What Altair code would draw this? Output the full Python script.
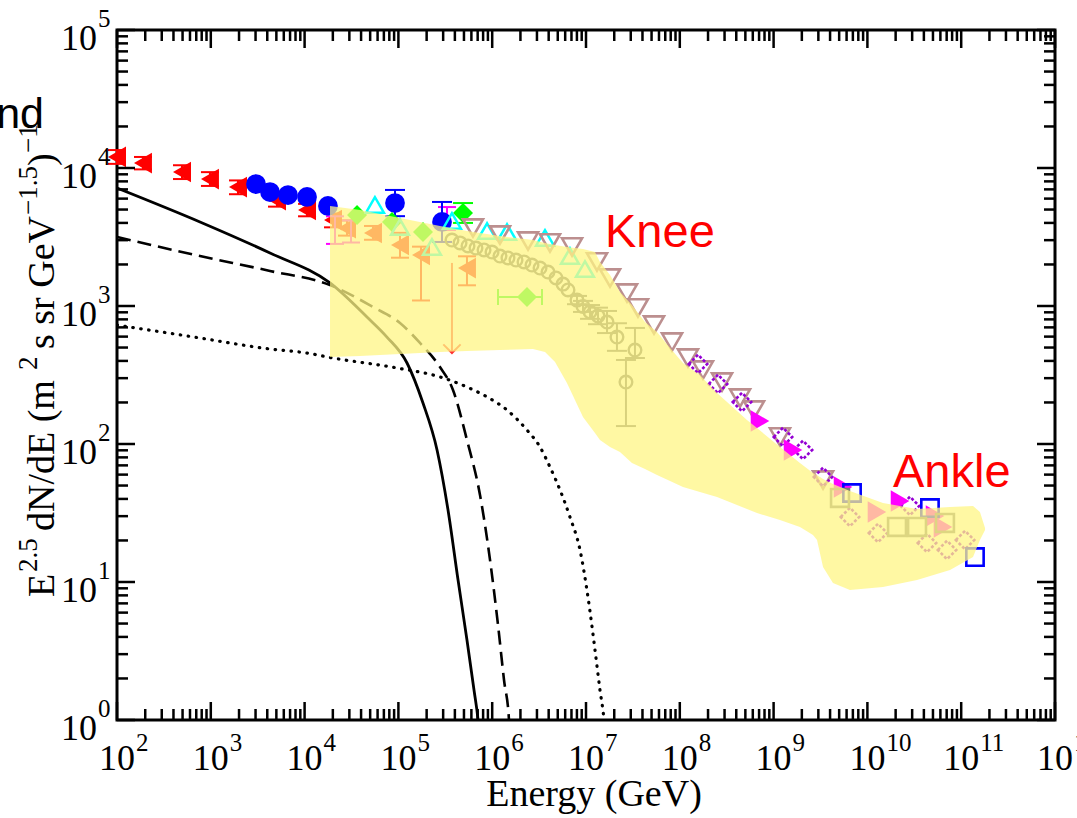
import altair as alt
import pandas as pd

# ---------------- data: log10(Energy/GeV) and log10(E^2.5 dN/dE) ----------------
red_lgE = [2.000, 2.277, 2.693, 2.991, 3.290, 3.706, 4.026, 4.303, 4.452, 4.729, 5.017, 5.241, 5.731]
red_lgF = [4.080, 4.036, 3.971, 3.920, 3.862, 3.768, 3.696, 3.623, 3.565, 3.529, 3.442, 3.370, 3.275]
red_lo = [4.030, 3.990, 3.920, 3.870, 3.810, 3.720, 3.650, 3.570, 3.510, 3.480, 3.350, 3.040, 3.150]
red_hi = [4.130, 4.080, 4.020, 3.970, 3.910, 3.820, 3.740, 3.670, 3.620, 3.580, 3.530, 3.430, 3.360]

limit_lgE = [5.571]
limit_from = [3.312]
limit_to = [2.659]

blue_lgE = [3.482, 3.631, 3.823, 4.026, 4.249, 4.964, 5.465]
blue_lgF = [3.884, 3.826, 3.804, 3.790, 3.725, 3.746, 3.609]
blue_err_lgE = [4.964, 5.465]
blue_err_lo = [3.651, 3.464]
blue_err_hi = [3.841, 3.754]

green_lgE = [4.559, 4.932, 5.262, 5.689, 6.371]
green_lgF = [3.659, 3.609, 3.536, 3.674, 3.065]
green_verr_lgE = [5.689]
green_verr_lo = [3.602]
green_verr_hi = [3.746]
green_herr_lgF = [3.065]
green_herr_lo = [6.062]
green_herr_hi = [6.531]

pink_err_lgE = [4.324, 4.495, 5.518]
pink_err_lo = [3.450, 3.460, 3.551]
pink_err_hi = [3.650, 3.620, 3.717]

cyan_lgE = [4.750, 5.017, 5.358, 5.571, 5.945, 6.158, 6.563, 6.829, 6.989]
cyan_lgF = [3.732, 3.572, 3.428, 3.616, 3.543, 3.536, 3.493, 3.362, 3.268]

grey_lgE = [5.571, 5.657, 5.742, 5.827, 5.913, 5.998, 6.083, 6.168, 6.254, 6.339, 6.424, 6.510,
            6.595, 6.680, 6.755, 6.808, 6.904, 6.968, 7.043, 7.128, 7.224, 7.330, 7.522, 7.426]
grey_lgF = [3.478, 3.457, 3.435, 3.420, 3.406, 3.391, 3.362, 3.348, 3.333, 3.319, 3.297, 3.275,
            3.246, 3.203, 3.159, 3.116, 3.043, 2.997, 2.957, 2.928, 2.884, 2.775, 2.681, 2.449]
grey_err_lgE = [6.904, 6.968, 7.043, 7.128, 7.224, 7.330, 7.522, 7.426]
grey_err_lo = [3.013, 2.957, 2.907, 2.868, 2.804, 2.675, 2.623, 2.130]
grey_err_hi = [3.073, 3.037, 3.007, 2.988, 2.964, 2.875, 2.841, 2.609]

brown_lgE = [5.795, 6.083, 6.382, 6.616, 6.851, 7.117, 7.256, 7.437, 7.554, 7.725, 7.917, 8.087,
             8.247, 8.450, 8.642, 8.791, 9.068, 9.527]
brown_lgF = [3.565, 3.514, 3.471, 3.457, 3.428, 3.319, 3.203, 3.094, 2.986, 2.862, 2.739, 2.623,
             2.536, 2.449, 2.333, 2.246, 2.051, 1.739]

purple_lgE = [8.194, 8.407, 8.663, 9.100, 9.313, 9.527, 9.814, 10.113, 10.454, 10.635, 10.849, 11.041]
purple_lgF = [2.580, 2.435, 2.304, 2.051, 1.957, 1.761, 1.471, 1.355, 1.551, 1.283, 1.232, 1.304]

magenta_lgE = [8.855, 9.207, 9.740, 10.102, 10.348, 10.721, 10.806]
magenta_lgF = [2.167, 1.957, 1.688, 1.507, 1.587, 1.478, 1.399]

bsq_lgE = [9.836, 10.667, 11.147]
bsq_lgF = [1.645, 1.536, 1.181]

gsq_lgE = [9.708, 10.316, 10.529, 10.827]
gsq_lgF = [1.609, 1.399, 1.399, 1.428]

solid_lgE = [2.000, 2.885, 3.631, 4.271, 4.665, 4.878, 5.092, 5.262, 5.412, 5.529, 5.636, 5.731, 5.806, 5.849, 5.881]
solid_lgF = [3.855, 3.609, 3.384, 3.167, 2.920, 2.775, 2.587, 2.297, 1.957, 1.522, 1.014, 0.580, 0.217, 0.000, -0.290]

dashed_lgE = [2.000, 2.885, 3.631, 4.271, 4.729, 5.017, 5.230, 5.443, 5.582, 5.731, 5.870, 5.977, 6.062, 6.126, 6.179, 6.200]
dashed_lgF = [3.500, 3.362, 3.254, 3.152, 2.993, 2.877, 2.732, 2.558, 2.391, 2.029, 1.630, 1.159, 0.688, 0.290, 0.000, -0.290]

dotted_lgE = [2.000, 2.885, 3.631, 4.026, 4.303, 4.985, 5.443, 5.731, 5.945, 6.158, 6.371, 6.510, 6.616, 6.723,
              6.829, 6.936, 7.021, 7.096, 7.149, 7.192, 7.224]
dotted_lgF = [2.862, 2.768, 2.688, 2.659, 2.623, 2.551, 2.486, 2.413, 2.341, 2.246, 2.101, 1.978, 1.833, 1.667,
              1.471, 1.232, 0.891, 0.507, 0.217, 0.000, -0.290]

band_lgE = [4.271, 4.591, 5.017, 5.443, 5.731, 6.083, 6.435, 6.563, 6.670, 6.797, 6.968, 7.096, 7.149, 7.256,
            7.362, 7.490, 7.629, 7.757, 7.896, 8.034, 8.215, 8.397, 8.716, 8.823, 9.068, 9.281, 9.420, 9.463,
            9.527, 9.633, 9.814, 10.166, 10.529, 10.881, 11.126, 11.200, 11.254]
band_top = [3.725, 3.696, 3.638, 3.580, 3.543, 3.507, 3.478, 3.457, 3.442, 3.428, 3.413, 3.391, 3.319, 3.225,
            3.101, 3.007, 2.884, 2.812, 2.696, 2.587, 2.500, 2.370, 2.174, 2.116, 1.978, 1.862, 1.790, 1.775,
            1.746, 1.710, 1.659, 1.572, 1.529, 1.543, 1.551, 1.507, 1.391]
band_bot = [2.630, 2.638, 2.652, 2.667, 2.674, 2.681, 2.688, 2.667, 2.594, 2.442, 2.196, 2.080, 2.029, 1.978,
            1.942, 1.862, 1.819, 1.775, 1.732, 1.688, 1.652, 1.616, 1.529, 1.500, 1.449, 1.399, 1.341, 1.304,
            1.109, 0.993, 0.942, 0.964, 1.014, 1.087, 1.181, 1.304, 1.377]

x_major_exp = list(range(2, 13))
y_major_exp = list(range(0, 6))
minor_mult = [2, 3, 4, 5, 6, 7, 8, 9]

# ---------------- chart ----------------
W, H = 938, 690
SERIF = "Liberation Serif"
SANS = "Liberation Sans"
xs = alt.Scale(type="log", domain=[1e2, 1e12], nice=False)
ys = alt.Scale(type="log", domain=[1e0, 1e5], nice=False)


def p10(v):
    return [10.0 ** a for a in v]


def X(f="E"):
    return alt.X(f"{f}:Q", scale=xs, axis=None)


def Y(f="F"):
    return alt.Y(f"{f}:Q", scale=ys, axis=None)


def pts(lgE, lgF, shape, color, size, filled=True, sw=2.0, dash=None):
    d = pd.DataFrame({"E": p10(lgE), "F": p10(lgF)})
    kw = dict(shape=shape, size=size, filled=filled, color=color, opacity=1, strokeWidth=sw)
    if dash:
        kw["strokeDash"] = dash
    return alt.Chart(d).mark_point(**kw).encode(x=X(), y=Y())


def vbars(lgE, lo, hi, color, cap=16, sw=2.0):
    d = pd.DataFrame({"E": p10(lgE), "lo": p10(lo), "hi": p10(hi)})
    base = alt.Chart(d)
    capkw = dict(shape="M-1,0L1,0", size=cap * cap, filled=False, color=color, strokeWidth=sw, opacity=1)
    return [
        base.mark_rule(color=color, strokeWidth=sw).encode(x=X(), y=Y("lo"), y2=alt.Y2("hi:Q")),
        base.mark_point(**capkw).encode(x=X(), y=Y("lo")),
        base.mark_point(**capkw).encode(x=X(), y=Y("hi")),
    ]


def hbars(lgF, lo, hi, color, cap=16, sw=2.0):
    d = pd.DataFrame({"F": p10(lgF), "lo": p10(lo), "hi": p10(hi)})
    base = alt.Chart(d)
    capkw = dict(shape="M0,-1L0,1", size=cap * cap, filled=False, color=color, strokeWidth=sw, opacity=1)
    return [
        base.mark_rule(color=color, strokeWidth=sw).encode(y=Y(), x=X("lo"), x2=alt.X2("hi:Q")),
        base.mark_point(**capkw).encode(y=Y(), x=X("lo")),
        base.mark_point(**capkw).encode(y=Y(), x=X("hi")),
    ]


def curve(lgE, lgF, dash=None, sw=2.6, cap="butt"):
    d = pd.DataFrame({"E": p10(lgE), "F": p10(lgF)})
    kw = dict(color="black", strokeWidth=sw, clip=True, interpolate="monotone", strokeCap=cap)
    if dash:
        kw["strokeDash"] = dash
    return alt.Chart(d).mark_line(**kw).encode(x=X(), y=Y())


one = pd.DataFrame({"a": [0]})


def txt(s, x, y, size, font=SERIF, color="black", angle=0, align="left"):
    kw = dict(text=s, font=font, fontSize=size, color=color, align=align, baseline="alphabetic")
    if angle:
        kw["angle"] = angle
    return alt.Chart(one).mark_text(**kw).encode(x=alt.value(x - 117), y=alt.value(y - 30))


layers = []
# model curves
layers.append(curve(solid_lgE, solid_lgF, sw=2.8))
layers.append(curve(dashed_lgE, dashed_lgF, dash=[14, 7]))
layers.append(curve(dotted_lgE, dotted_lgF, dash=[0.5, 7.5], sw=3.2, cap="round"))

# data sets
layers += vbars(red_lgE, red_lo, red_hi, "#ff0000", cap=18)
layers.append(pts(red_lgE, red_lgF, "triangle-left", "#ff0000", 430))
lim = pd.DataFrame({"E": p10(limit_lgE), "a": p10(limit_from), "b": p10(limit_to)})
layers.append(alt.Chart(lim).mark_rule(color="#ff3030", strokeWidth=2).encode(x=X(), y=Y("a"), y2=alt.Y2("b:Q")))
layers.append(alt.Chart(lim).mark_point(shape="M-1,-1L0,0L1,-1", size=300, filled=False, color="#ff3030",
                                        strokeWidth=2, opacity=1).encode(x=X(), y=Y("b")))
layers += vbars(pink_err_lgE, pink_err_lo, pink_err_hi, "#ff00ff", cap=18)
layers += vbars(blue_err_lgE, blue_err_lo, blue_err_hi, "#0000ff", cap=20)
layers.append(pts(blue_lgE, blue_lgF, "circle", "#0000ff", 390))
layers += vbars(green_verr_lgE, green_verr_lo, green_verr_hi, "#00ff00", cap=20)
layers += hbars(green_herr_lgF, green_herr_lo, green_herr_hi, "#00ff00", cap=16)
layers.append(pts(green_lgE, green_lgF, "diamond", "#00ff00", 400))
layers.append(pts(cyan_lgE, cyan_lgF, "triangle-up", "#00ffff", 320, filled=False, sw=2.5))
layers += vbars(grey_err_lgE, grey_err_lo, grey_err_hi, "#666666", cap=20)
layers.append(pts(grey_lgE, grey_lgF, "circle", "#666666", 160, filled=False, sw=2.4))
layers.append(pts(brown_lgE, brown_lgF, "triangle-down", "#bc8f8f", 400, filled=False, sw=2.6))
layers.append(pts(purple_lgE, purple_lgF, "diamond", "#9400d3", 340, filled=False, sw=2.6, dash=[3, 2]))
layers.append(pts(magenta_lgE, magenta_lgF, "triangle-right", "#ff00ff", 460))
layers.append(pts(bsq_lgE, bsq_lgF, "square", "#0000ff", 300, filled=False, sw=2.6))
layers.append(pts(gsq_lgE, gsq_lgF, "square", "#777777", 320, filled=False, sw=2.6))

# translucent yellow band
band = pd.DataFrame({"E": p10(band_lgE), "top": p10(band_top), "bot": p10(band_bot)})
layers.append(alt.Chart(band).mark_area(color="#fff684", opacity=0.75).encode(
    x=X(), y=Y("top"), y2=alt.Y2("bot:Q")))

# inward ticks on all four sides
xmaj = pd.DataFrame({"E": [10.0 ** k for k in x_major_exp]})
xmin = pd.DataFrame({"E": [m * 10.0 ** k for k in x_major_exp[:-1] for m in minor_mult]})
ymaj = pd.DataFrame({"F": [10.0 ** k for k in y_major_exp]})
ymin = pd.DataFrame({"F": [m * 10.0 ** k for k in y_major_exp[:-1] for m in minor_mult]})
TW = 2.5
for dfr, L in ((xmaj, 18), (xmin, 11)):
    layers.append(alt.Chart(dfr).mark_rule(color="black", strokeWidth=TW).encode(
        x=X(), y=alt.value(H), y2=alt.value(H - L)))
    layers.append(alt.Chart(dfr).mark_rule(color="black", strokeWidth=TW).encode(
        x=X(), y=alt.value(0), y2=alt.value(L)))
for dfr, L in ((ymaj, 18), (ymin, 11)):
    layers.append(alt.Chart(dfr).mark_rule(color="black", strokeWidth=TW).encode(
        y=Y(), x=alt.value(0), x2=alt.value(L)))
    layers.append(alt.Chart(dfr).mark_rule(color="black", strokeWidth=TW).encode(
        y=Y(), x=alt.value(W), x2=alt.value(W - L)))

# tick labels 10^n
xl = pd.DataFrame({"E": [10.0 ** k for k in x_major_exp], "exp": [str(k) for k in x_major_exp]})
layers.append(alt.Chart(xl).mark_text(text="10", font=SERIF, fontSize=36, align="center",
                                      baseline="alphabetic", color="black").encode(x=X(), y=alt.value(H + 50)))
layers.append(alt.Chart(xl).mark_text(font=SERIF, fontSize=25, align="left", dx=19,
                                      baseline="alphabetic", color="black").encode(
    x=X(), y=alt.value(H + 31), text="exp:N"))
yl = pd.DataFrame({"F": [10.0 ** k for k in y_major_exp], "exp": [str(k) for k in y_major_exp]})
layers.append(alt.Chart(yl).mark_text(text="10", font=SERIF, fontSize=36, align="right", dx=-20, dy=20,
                                      baseline="alphabetic", color="black").encode(y=Y(), x=alt.value(0)))
layers.append(alt.Chart(yl).mark_text(font=SERIF, fontSize=25, align="left", dx=-19, dy=-3,
                                      baseline="alphabetic", color="black").encode(
    y=Y(), x=alt.value(0), text="exp:N"))

# axis titles
layers.append(txt("Energy (GeV)", 594, 806, 38, align="center"))
MX, SX = 54, 37
layers.append(txt("E", MX, 597, 38, angle=270))
layers.append(txt("2.5", SX, 572, 27, angle=270))
layers.append(txt("dN/dE (m", MX, 531, 38, angle=270))
layers.append(txt("2", SX, 370, 27, angle=270))
layers.append(txt("s sr GeV", MX, 349, 38, angle=270))
layers.append(txt("\u22121.5", SX, 215, 27, angle=270))
layers.append(txt(")", MX, 166, 38, angle=270))
layers.append(txt("\u22121", SX, 153, 27, angle=270))

# annotations
layers.append(txt("Knee", 605, 247, 47, font=SANS, color="#ff0000"))
layers.append(txt("Ankle", 893, 487, 47, font=SANS, color="#ff0000"))
layers.append(txt("nd", 44, 128, 43, font=SANS, align="right"))

chart = alt.layer(*layers).properties(
    width=W, height=H,
    autosize=alt.AutoSizeParams(type="none"),
    padding={"left": 117, "top": 30, "right": 1077 - 117 - W, "bottom": 818 - 30 - H},
).configure_view(stroke="black", strokeWidth=3)

chart.save("out.html", embed_options={"renderer": "svg", "actions": False})
